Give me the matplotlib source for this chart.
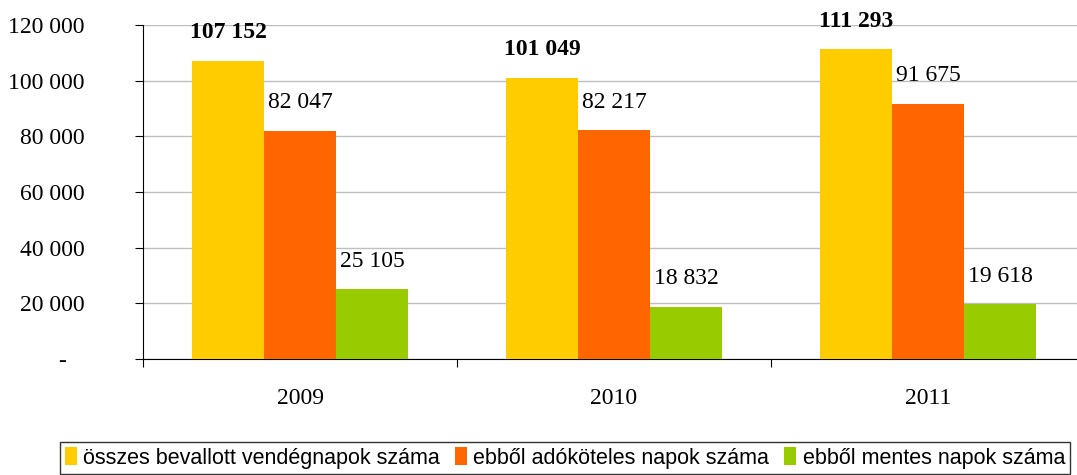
import matplotlib
matplotlib.use("Agg")
import matplotlib.pyplot as plt
import numpy as np
from matplotlib.ticker import FixedLocator

years = ["2009", "2010", "2011"]
series_names = ["összes bevallott vendégnapok száma",
                "ebből adóköteles napok száma",
                "ebből mentes napok száma"]
total = [107152, 101049, 111293]
taxable = [82047, 82217, 91675]
exempt = [25105, 18832, 19618]
colors = ["#FFCC00", "#FF6600", "#99CC00"]
yticks = [0, 20000, 40000, 60000, 80000, 100000, 120000]
ytick_labels = ["-   ", "20 000", "40 000", "60 000", "80 000", "100 000", "120 000"]

def fmt(v):
    return f"{v:,}".replace(",", " ")

fig = plt.figure(figsize=(10.77, 4.75), dpi=100)
ax = fig.add_axes([143/1077, 116/475, 942/1077, 334/475])

x = np.arange(len(years)) + 0.5
w = 72/314
data = [total, taxable, exempt]
serif = "Liberation Serif"
FS = 17
for i, (vals, c, name) in enumerate(zip(data, colors, series_names)):
    pos = x + (i - 1) * w
    ax.bar(pos, vals, width=w, color=c, label=name, zorder=3)
    for p, v in zip(pos, vals):
        ax.annotate(fmt(v), (p, v), xytext=(0, 28), textcoords="offset pixels",
                    ha="center", va="center", fontsize=FS, family=serif,
                    fontweight="bold" if i == 0 else "normal", zorder=4)

ax.set_xlim(0, 3)
ax.set_ylim(0, 120000)
ax.set_yticks(yticks)
ax.set_yticklabels(ytick_labels, family=serif, fontsize=FS)
ax.xaxis.set_major_locator(FixedLocator([0, 1, 2, 3]))
ax.xaxis.set_major_formatter(plt.NullFormatter())
ax.xaxis.set_minor_locator(FixedLocator(list(x)))
ax.set_xticklabels(years, minor=True, family=serif, fontsize=FS)
ax.tick_params(axis="x", which="minor", length=0, pad=21)
ax.tick_params(axis="x", which="major", length=6, direction="out", color="black")
ax.tick_params(axis="y", length=6, direction="out", pad=36, color="black")
ax.yaxis.grid(True, color="#BFBFBF", linewidth=1, zorder=0)
ax.spines["top"].set_visible(False)
ax.spines["right"].set_visible(False)
ax.spines["left"].set_color("black")
ax.spines["bottom"].set_color("black")

leg = fig.legend(loc="center", bbox_to_anchor=(565/1077, 1 - 458/475), ncol=3,
                 prop={"family": "Liberation Sans", "size": 15.5},
                 frameon=True, fancybox=False, edgecolor="black",
                 handlelength=0.55, handleheight=0.9, handletextpad=0.3,
                 columnspacing=0.7, borderpad=0.25, borderaxespad=0)
leg.get_frame().set_linewidth(1.0)

fig.savefig("out.png", dpi=100)
